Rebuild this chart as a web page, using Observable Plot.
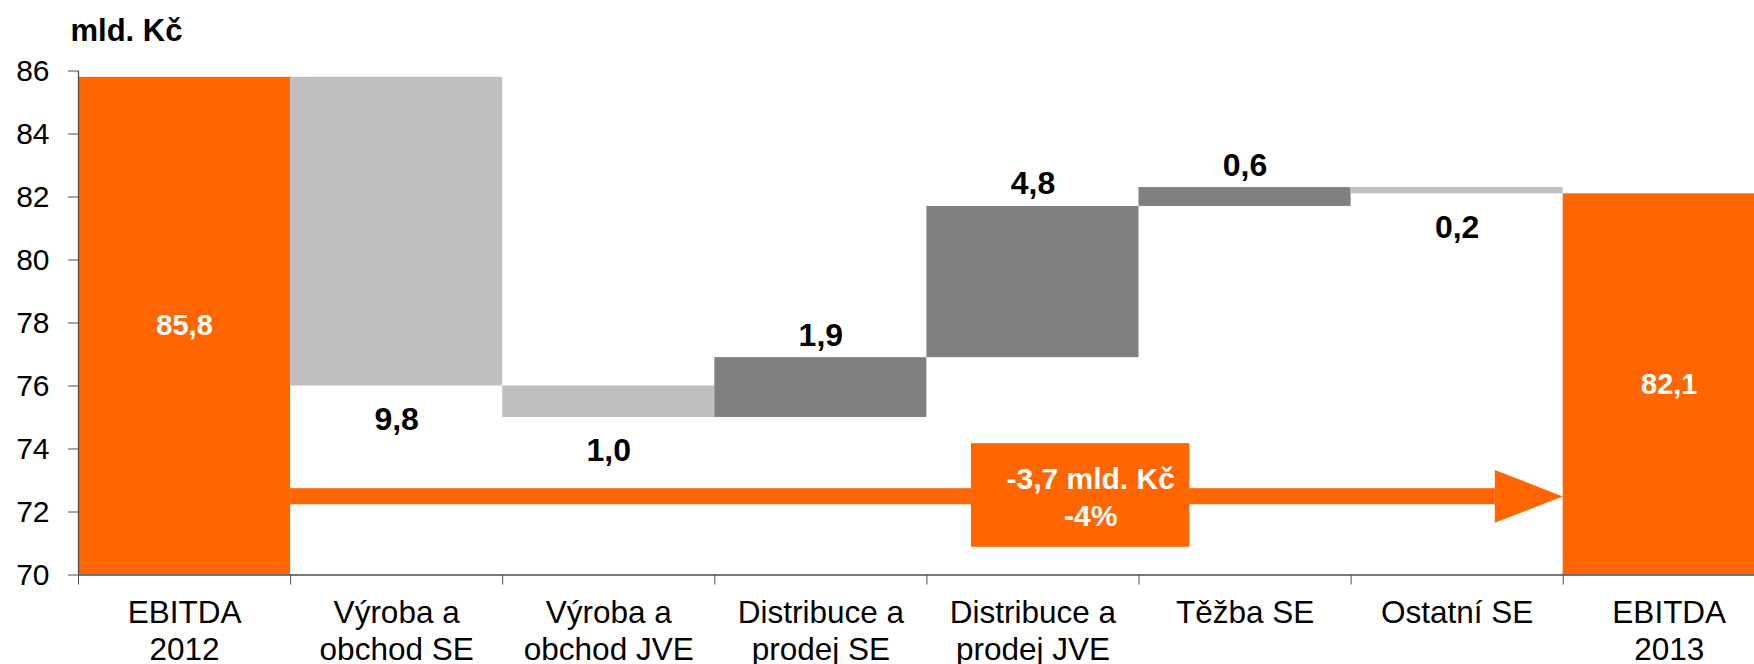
<!DOCTYPE html>
<html>
<head>
<meta charset="utf-8">
<script src="https://cdn.jsdelivr.net/npm/d3@7"></script>
<script src="https://cdn.jsdelivr.net/npm/@observablehq/plot@0.6"></script>
<style>
  html, body { margin: 0; padding: 0; background: #fff; overflow: hidden; }
  #chart svg { display: block; }
</style>
</head>
<body>
<div id="chart"></div>
<script>
// ---- data ----
const categories = [
  "EBITDA\n2012",
  "Výroba a\nobchod SE",
  "Výroba a\nobchod JVE",
  "Distribuce a\nprodej SE",
  "Distribuce a\nprodej JVE",
  "Těžba SE",
  "Ostatní SE",
  "EBITDA\n2013"
];
const startValue = 85.8;
const changes = [-9.8, -1.0, 1.9, 4.8, 0.6, -0.2];
const endValue = 82.1;
const yTicks = [70, 72, 74, 76, 78, 80, 82, 84, 86];
const unitLabel = "mld. Kč";

// ---- styles ----
const ORANGE = "#FF6600", NEG = "#BFBFBF", POS = "#808080", AXIS = "#4d4d4d";
const FONT = "'Liberation Sans', Arial, sans-serif";
const fmt = v => d3.format(".1f")(v).replace(".", ",").replace("\u2212", "-");
const yBase = yTicks[0];

// ---- build waterfall rows ----
const rows = [];
rows.push({i: 0, y1: yBase, y2: startValue, kind: "total", value: startValue});
let run = startValue;
changes.forEach((c, k) => {
  rows.push({i: k + 1, y1: run, y2: run + c, kind: c < 0 ? "neg" : "pos", value: c});
  run += c;
});
rows.push({i: categories.length - 1, y1: yBase, y2: endValue, kind: "total", value: endValue});
const fillOf = {total: ORANGE, neg: NEG, pos: POS};

const totals = rows.filter(d => d.kind === "total");
const ups = rows.filter(d => d.kind === "pos");
const downs = rows.filter(d => d.kind === "neg");

// ---- annotation (arrow from first total to last total) ----
const change = endValue - startValue;
const annotationText = `${fmt(change)} mld. Kč\n${Math.round(change / startValue * 100)}%`;
const arrowFrom = 1, arrowTo = categories.length - 1;
const headLen = 0.32;
const shaft = [{x1: arrowFrom, x2: arrowTo - headLen, y1: 72.23, y2: 72.74}];
const head = [
  {x: arrowTo - headLen, lo: 71.64, hi: 73.32},
  {x: arrowTo, lo: 72.48, hi: 72.48}
];
const box = [{x1: 4.21, x2: 5.24, y1: 70.88, y2: 74.17}];

const bandPx = 212.1, left = 78;

const chart = Plot.plot({
  width: 1754,
  height: 664,
  marginLeft: left,
  marginRight: 0,
  marginTop: 70.5,
  marginBottom: 89.5,
  style: {fontFamily: FONT, fontSize: "30px", color: "#000", background: "#fff", overflow: "hidden"},
  x: {type: "linear", domain: [0, categories.length], range: [left, left + bandPx * categories.length]},
  y: {domain: [yTicks[0], yTicks[yTicks.length - 1]]},
  marks: [
    // bars
    Plot.rect(rows, {x1: d => d.i, x2: d => d.i + 1, y1: "y1", y2: "y2", fill: d => fillOf[d.kind]}),
    // arrow + box
    Plot.rect(shaft, {x1: "x1", x2: "x2", y1: "y1", y2: "y2", fill: ORANGE}),
    Plot.areaY(head, {x: "x", y1: "lo", y2: "hi", fill: ORANGE}),
    Plot.rect(box, {x1: "x1", x2: "x2", y1: "y1", y2: "y2", fill: ORANGE}),
    Plot.text([annotationText], {
      x: box[0].x1 + (box[0].x2 - box[0].x1) / 2, y: (box[0].y1 + box[0].y2) / 2,
      dx: 10, fill: "#fff", fontWeight: "bold", fontSize: 30, lineHeight: 1.26, lineAnchor: "middle"
    }),
    // axes
    Plot.ruleY([yBase], {stroke: AXIS, strokeWidth: 1.3}),
    Plot.ruleX([0], {y1: yTicks[0], y2: yTicks[yTicks.length - 1], stroke: AXIS, strokeWidth: 1.3}),
    Plot.axisY({ticks: yTicks, tickSize: 10, tickPadding: 19, stroke: AXIS, fill: "#000", fontSize: 30, label: null, tickFormat: d => String(d)}),
    Plot.axisX({ticks: d3.range(0, categories.length + 1), tickSize: 10, stroke: AXIS, tickFormat: () => "", label: null}),
    Plot.axisX({
      ticks: d3.range(0, categories.length).map(i => i + 0.5), tickSize: 0, tickPadding: 22,
      tickFormat: d => categories[Math.floor(d)], fill: "#000", fontSize: 31.5, lineHeight: 1.17, label: null
    }),
    // value labels
    Plot.text(totals, {x: d => d.i + 0.5, y: d => (d.y1 + d.y2) / 2, text: d => fmt(d.value), fill: "#fff", fontWeight: "bold", fontSize: 29, lineAnchor: "middle"}),
    Plot.text(ups, {x: d => d.i + 0.5, y: "y2", text: d => fmt(Math.abs(d.value)), fill: "#000", fontWeight: "bold", fontSize: 32, lineAnchor: "bottom", dy: -12}),
    Plot.text(downs, {x: d => d.i + 0.5, y: "y2", text: d => fmt(Math.abs(d.value)), fill: "#000", fontWeight: "bold", fontSize: 32, lineAnchor: "top", dy: 21}),
    // unit title
    Plot.text([unitLabel], {frameAnchor: "top-left", dx: -8, dy: -30.5, lineAnchor: "bottom", textAnchor: "start", fontWeight: "bold", fontSize: 31, fill: "#000"})
  ]
});
document.getElementById("chart").appendChild(chart);
</script>
</body>
</html>
